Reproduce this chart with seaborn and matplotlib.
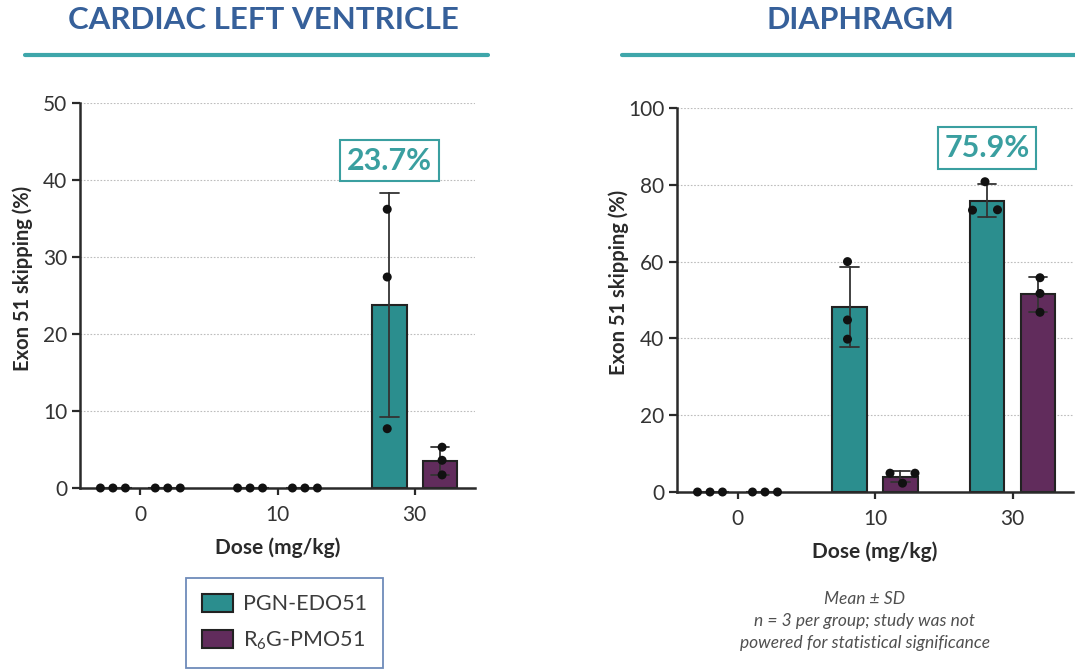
import numpy as np
import pandas as pd
import matplotlib
matplotlib.use("Agg")
import matplotlib.pyplot as plt
from matplotlib.lines import Line2D
from matplotlib.patches import Patch
import seaborn as sns

# ---------------- data ----------------
doses = ["0", "10", "30"]
treatments = ["PGN-EDO51", "R6G-PMO51"]
lv_pgn = [[0, 0, 0], [0, 0, 0], [36.2, 27.4, 7.7]]
lv_r6g = [[0, 0, 0], [0, 0, 0], [5.3, 3.6, 1.7]]
dia_pgn = [[0, 0, 0], [60.0, 44.8, 39.8], [80.8, 73.5, 73.4]]
dia_r6g = [[0, 0, 0], [4.9, 4.9, 2.3], [55.8, 51.7, 46.8]]
lv_label = "23.7%"
dia_label = "75.9%"
titles = ["CARDIAC LEFT VENTRICLE", "DIAPHRAGM"]
legend_labels = ["PGN-EDO51", "R$_6$G-PMO51"]
footnote = "Mean ± SD\nn = 3 per group; study was not\npowered for statistical significance"

TEAL = "#2b8e8e"
PURPLE = "#612c5c"
TITLE_BLUE = "#36609a"
LINE_TEAL = "#3ea6aa"
LABEL_TEAL = "#3a9fa0"


def to_long(pgn, r6g):
    rows = []
    for name, vals in zip(treatments, [pgn, r6g]):
        for d, reps in zip(doses, vals):
            for v in reps:
                rows.append({"Dose": d, "Treatment": name, "Value": v})
    return pd.DataFrame(rows)


df_lv = to_long(lv_pgn, lv_r6g)
df_dia = to_long(dia_pgn, dia_r6g)

sns.set_theme(style="white")
plt.rcParams["font.family"] = ["Lato", "DejaVu Sans"]
plt.rcParams["mathtext.default"] = "regular"

fig = plt.figure(figsize=(10.75, 6.7), dpi=100)
ax1 = fig.add_axes([80 / 1075, 1 - 488 / 670, 395 / 1075, 385 / 670])
ax2 = fig.add_axes([677 / 1075, 1 - 492 / 670, 396 / 1075, 384 / 670])

WIDTH = 0.74
GAP = 0.32
DOT_PX = 9.0      # dot diameter in pixels
SLOT_PX = 12.5    # horizontal spacing between side-by-side dots


def spread_points(ax, ymax):
    """Prism-style scatter: points with (near) equal values spread sideways."""
    px_per_x = ax.bbox.width / (ax.get_xlim()[1] - ax.get_xlim()[0])
    px_per_y = ax.bbox.height / ymax
    slot = SLOT_PX / px_per_x
    thr = DOT_PX / px_per_y
    for coll in ax.collections:
        offs = coll.get_offsets()
        if len(offs) == 0:
            continue
        offs = np.array(offs, dtype=float)
        xs = np.round(offs[:, 0], 3)
        for xc in np.unique(xs):
            idx = np.where(xs == xc)[0]
            order = idx[np.argsort(offs[idx, 1])]
            rows, cur = [], [order[0]]
            for i in order[1:]:
                if offs[i, 1] - offs[cur[-1], 1] < thr:
                    cur.append(i)
                else:
                    rows.append(cur)
                    cur = [i]
            rows.append(cur)
            for r in rows:
                n = len(r)
                if n % 2:
                    slots = [0] + [s for k in range(1, n // 2 + 1) for s in (-k, k)]
                else:
                    slots = [s for k in range(1, n // 2 + 1) for s in (-k, k)]
                for i, s in zip(r, sorted(slots)):
                    offs[i, 0] = xc + s * slot
        coll.set_offsets(offs)


def draw(ax, df, ymax, ystep, label, label_y):
    sns.barplot(data=df, x="Dose", y="Value", hue="Treatment", order=doses,
                hue_order=treatments, palette=[TEAL, PURPLE], saturation=1,
                width=WIDTH, gap=GAP, errorbar="sd", capsize=0.27,
                err_kws={"color": "#333333", "linewidth": 1.3},
                edgecolor="#222222", linewidth=1.5, legend=False, ax=ax)
    n_before = len(ax.collections)
    sns.stripplot(data=df, x="Dose", y="Value", hue="Treatment", order=doses,
                  hue_order=treatments, palette=["#111111", "#111111"],
                  dodge=True, jitter=False, size=DOT_PX * 72 / 100,
                  linewidth=0, legend=False, ax=ax)
    ax.set_xlim(-0.44, 2.44)
    ax.set_ylim(0, ymax)
    spread_points(ax, ymax)
    for c in ax.collections[n_before:]:
        c.set_clip_on(False)
        c.set_zorder(5)
    ax.set_yticks(np.arange(0, ymax + 1, ystep))
    ax.yaxis.grid(True, linestyle=(0, (1.5, 1.5)), color="#bdbdbd", linewidth=0.8)
    ax.set_axisbelow(True)
    for s in ["top", "right"]:
        ax.spines[s].set_visible(False)
    for s in ["left", "bottom"]:
        ax.spines[s].set_color("#2a2a2a")
        ax.spines[s].set_linewidth(1.8)
    ax.tick_params(axis="y", which="major", left=True, length=6, width=1.6,
                   color="#2a2a2a", labelsize=15, labelcolor="#333333", pad=3)
    ax.tick_params(axis="x", which="major", bottom=True, length=5, width=1.6,
                   color="#2a2a2a", labelsize=15, labelcolor="#333333", pad=7)
    ax.set_ylabel("Exon 51 skipping (%)", fontsize=14.5, fontweight="bold",
                  color="#2a2a2a")
    ax.yaxis.set_label_coords(-0.12, 0.545)
    ax.set_xlabel("Dose (mg/kg)", fontsize=15, fontweight="bold",
                  color="#2a2a2a", labelpad=9)
    ax.text(2 - WIDTH / 4, label_y, label, ha="center", va="center",
            fontsize=22, fontweight="bold", color=LABEL_TEAL,
            bbox=dict(boxstyle="square,pad=0.22", facecolor="white",
                      edgecolor=LABEL_TEAL, linewidth=1.5))


draw(ax1, df_lv, 50, 10, lv_label, 42.5)
draw(ax2, df_dia, 100, 20, dia_label, 89.6)

# titles and underlines
fig.text(263 / 1075, 1 - 20 / 670, titles[0], ha="center", va="center",
         fontsize=22.5, fontweight="bold", color=TITLE_BLUE)
fig.text(860 / 1075, 1 - 20 / 670, titles[1], ha="center", va="center",
         fontsize=22, fontweight="bold", color=TITLE_BLUE)
fig.add_artist(Line2D([25 / 1075, 488 / 1075], [1 - 55 / 670] * 2,
                      color=LINE_TEAL, linewidth=3))
fig.add_artist(Line2D([622 / 1075, 1075 / 1075], [1 - 55 / 670] * 2,
                      color=LINE_TEAL, linewidth=3))

# legend
handles = [Patch(facecolor=TEAL, edgecolor="#222222", linewidth=1.5),
           Patch(facecolor=PURPLE, edgecolor="#222222", linewidth=1.5)]
leg = fig.legend(handles, legend_labels, loc="upper left",
                 bbox_to_anchor=(186 / 1075, 1 - 578 / 670),
                 fontsize=15.5, frameon=True, fancybox=False,
                 handlelength=1.44, handleheight=0.88, labelspacing=0.7,
                 borderpad=0.75, handletextpad=0.47, borderaxespad=0)
leg.get_frame().set_edgecolor("#4a6fa8")
leg.get_frame().set_linewidth(1.3)
for t in leg.get_texts():
    t.set_color("#3c3c3c")

fig.text(865 / 1075, 1 - 621 / 670, footnote, ha="center", va="center",
         fontsize=12.5, style="italic", color="#505050", linespacing=1.45)

fig.savefig("out.png", dpi=100, facecolor="white")
